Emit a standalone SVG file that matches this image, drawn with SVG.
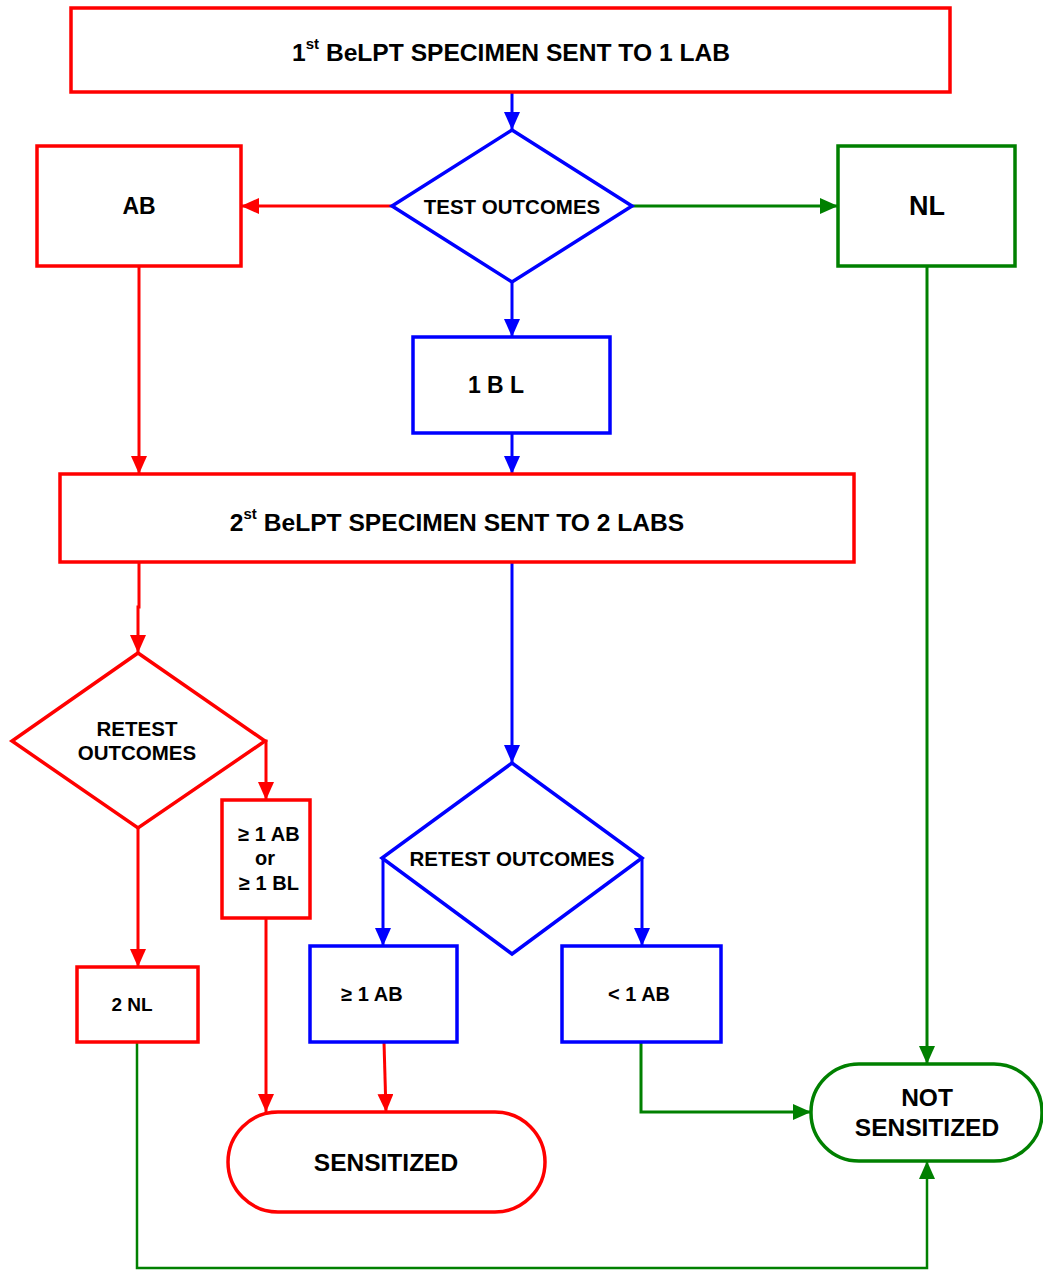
<svg xmlns="http://www.w3.org/2000/svg" width="1043" height="1270" viewBox="0 0 1043 1270">
<style>
text{font-family:"Liberation Sans",Arial,sans-serif;font-weight:bold;fill:#000;text-anchor:middle;dominant-baseline:central}
.r{fill:#fff;stroke:#ff0000;stroke-width:3.5}
.b{fill:#fff;stroke:#0000ff;stroke-width:3.5}
.g{fill:#fff;stroke:#008000;stroke-width:3.5}
.cr{fill:none;stroke:#ff0000;stroke-width:3}
.cb{fill:none;stroke:#0000ff;stroke-width:3}
.cg{fill:none;stroke:#008000;stroke-width:3}
</style>
<defs>
<marker id="ar" markerUnits="userSpaceOnUse" markerWidth="18" markerHeight="16" refX="18" refY="8" orient="auto"><path d="M0,0 L18,8 L0,16 z" fill="#ff0000"/></marker>
<marker id="ab" markerUnits="userSpaceOnUse" markerWidth="18" markerHeight="16" refX="18" refY="8" orient="auto"><path d="M0,0 L18,8 L0,16 z" fill="#0000ff"/></marker>
<marker id="ag" markerUnits="userSpaceOnUse" markerWidth="18" markerHeight="16" refX="18" refY="8" orient="auto"><path d="M0,0 L18,8 L0,16 z" fill="#008000"/></marker>
</defs>
<rect width="1043" height="1270" fill="#fff"/>
<g id="connectors">
<path class="cb" d="M512,92 V130" marker-end="url(#ab)"/>
<path class="cr" d="M392,206 H241" marker-end="url(#ar)"/>
<path class="cg" d="M632,206 H838" marker-end="url(#ag)"/>
<path class="cb" d="M512,282 V337" marker-end="url(#ab)"/>
<path class="cb" d="M512,433 V474" marker-end="url(#ab)"/>
<path class="cr" d="M139,266 V474" marker-end="url(#ar)"/>
<path class="cg" d="M927,266 V1064" marker-end="url(#ag)"/>
<path class="cr" d="M139,562 V607 H138 V653" marker-end="url(#ar)"/>
<path class="cr" d="M265,741 H266 V800" marker-end="url(#ar)"/>
<path class="cr" d="M138,828 V967" marker-end="url(#ar)"/>
<path class="cb" d="M512,562 V763" marker-end="url(#ab)"/>
<path class="cb" d="M383,858 V946" marker-end="url(#ab)"/>
<path class="cb" d="M642,858 V946" marker-end="url(#ab)"/>
<path class="cr" d="M266,918 V1112" marker-end="url(#ar)"/>
<path class="cr" d="M384,1042 L386,1112" marker-end="url(#ar)"/>
<path class="cg" d="M641,1042 V1112 H811" marker-end="url(#ag)"/>
<path class="cg" style="stroke-width:2.5" d="M137,1042 V1268 H927 V1161" marker-end="url(#ag)"/>
</g>
<g id="n1"><rect class="r" x="71" y="8" width="879" height="84"/><text x="511" y="52" font-size="24.6">1<tspan font-size="15" dy="-9">st</tspan><tspan dy="9"> BeLPT SPECIMEN SENT TO 1 LAB</tspan></text></g>
<g id="d1"><path class="b" d="M512,130 L632,206 L512,282 L392,206 z"/><text x="512" y="206" font-size="20.5">TEST OUTCOMES</text></g>
<g id="ab"><rect class="r" x="37" y="146" width="204" height="120"/><text x="139" y="206" font-size="23">AB</text></g>
<g id="nl"><rect class="g" x="838" y="146" width="177" height="120"/><text x="927" y="206" font-size="27">NL</text></g>
<g id="bl"><rect class="b" x="413" y="337" width="197" height="96"/><text x="496" y="385" font-size="23">1 B L</text></g>
<g id="n2"><rect class="r" x="60" y="474" width="794" height="88"/><text x="457" y="522" font-size="24.6">2<tspan font-size="15" dy="-9">st</tspan><tspan dy="9"> BeLPT SPECIMEN SENT TO 2 LABS</tspan></text></g>
<g id="d2"><path class="r" d="M138,653 L265,741 L138,828 L12,741 z"/><text x="137" y="728" font-size="20.5">RETEST</text><text x="137" y="752" font-size="20.5">OUTCOMES</text></g>
<g id="ab1bl"><rect class="r" x="222" y="800" width="88" height="118"/><text x="269" y="834" font-size="20">≥ 1 AB</text><text x="265" y="858" font-size="20">or</text><text x="269" y="883" font-size="20">≥ 1 BL</text></g>
<g id="nl2"><rect class="r" x="77" y="967" width="121" height="75"/><text x="132" y="1004" font-size="19">2 NL</text></g>
<g id="d3"><path class="b" d="M512,763 L642,858 L512,954 L382,858 z"/><text x="512" y="858" font-size="20.5">RETEST OUTCOMES</text></g>
<g id="ge1ab"><rect class="b" x="310" y="946" width="147" height="96"/><text x="372" y="994" font-size="20">≥  1 AB</text></g>
<g id="lt1ab"><rect class="b" x="562" y="946" width="159" height="96"/><text x="639" y="994" font-size="20">&lt; 1 AB</text></g>
<g id="sens"><rect class="r" x="228" y="1112" width="317" height="100" rx="50" ry="50"/><text x="386" y="1162" font-size="24.5">SENSITIZED</text></g>
<g id="notsens"><rect class="g" x="811" y="1064" width="231" height="97" rx="48" ry="48"/><text x="927" y="1097" font-size="24.5">NOT</text><text x="927" y="1127" font-size="24.5">SENSITIZED</text></g>
</svg>
